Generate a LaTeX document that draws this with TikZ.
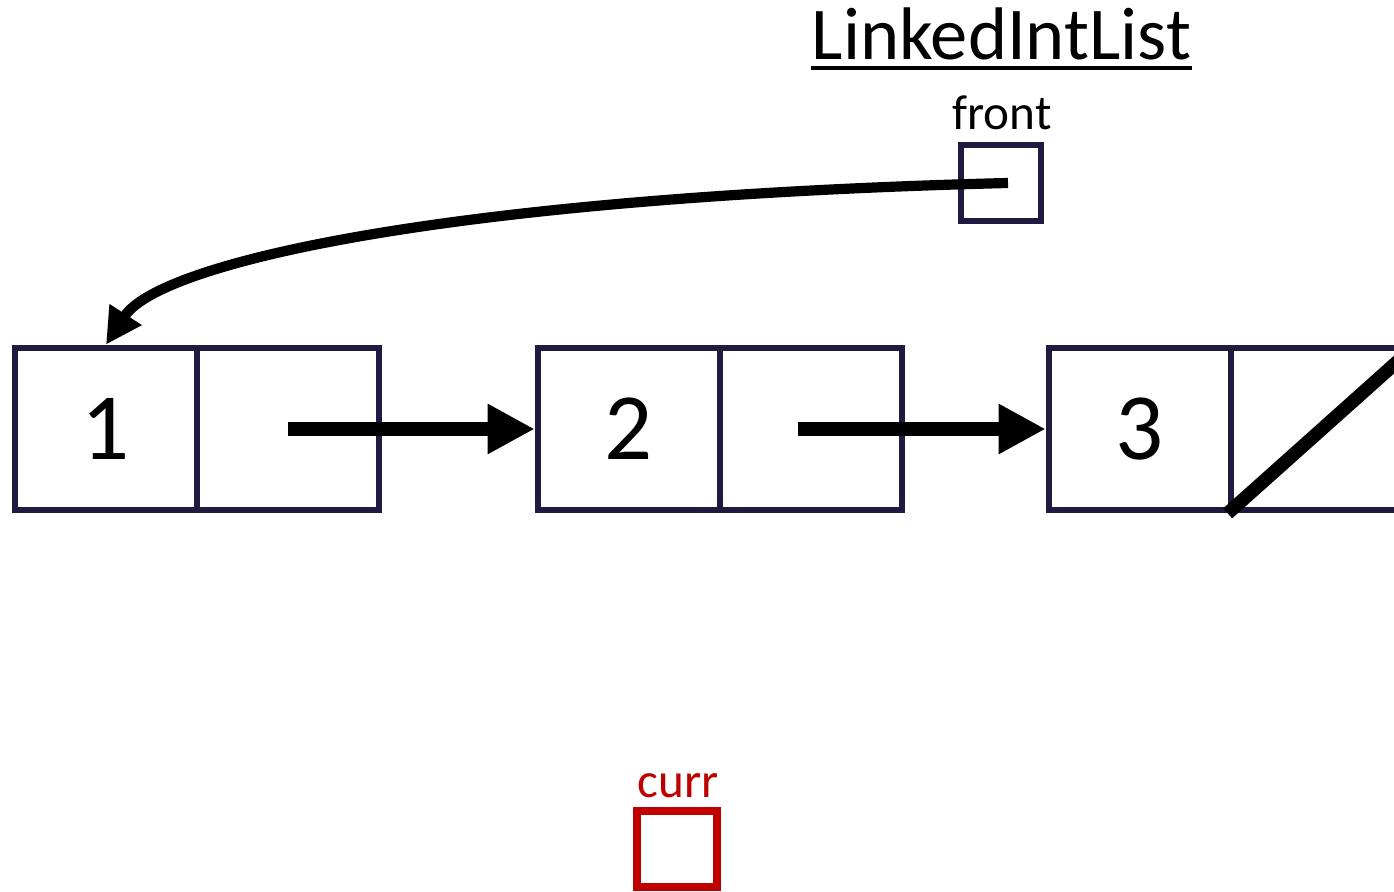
\documentclass[tikz,border=0pt]{standalone}
\usepackage{fontspec}
\setmainfont{Carlito}
\usepackage{tikz}
\usetikzlibrary{arrows.meta}
\definecolor{boxnavy}{HTML}{201A41}
\definecolor{currred}{HTML}{C00000}

\begin{document}
\begin{tikzpicture}[
        cell/.style={draw=boxnavy,line width=1.9pt,minimum width=1.82cm,minimum height=1.62cm,inner sep=0pt,font=\fontsize{27}{27}\selectfont},
        ptr/.style={draw=boxnavy,line width=1.9pt,minimum width=0.8cm,minimum height=0.76cm,inner sep=0pt},
        lbl/.style={anchor=base,inner sep=0pt,font=\fontsize{14}{14}\selectfont},
        link/.style={line width=4.2pt,-{Triangle[length=0.47cm,width=0.47cm]}}
    ]
    \clip (0,0) rectangle (13.94,8.92);
    % title
    \node[anchor=base,inner sep=0pt,font=\fontsize{21.2}{21.2}\selectfont] (ttl) at (10.015,8.32) {LinkedIntList};
    \draw[line width=1.1pt] ([yshift=-0.08cm]ttl.base west) -- ([yshift=-0.08cm]ttl.base east);
    % front field
    \node[lbl] (frlbl) at (10.02,7.62) {front};
    \node[ptr] (fr) at (10.01,7.09) {};
    % list nodes
    \node[cell] (d1) at (1.06,4.63) {1};
    \node[cell] (n1) at (2.88,4.63) {};
    \node[cell] (d2) at (6.29,4.63) {2};
    \node[cell] (n2) at (8.11,4.63) {};
    \node[cell] (d3) at (11.40,4.63) {3};
    \node[cell] (n3) at (13.22,4.63) {};
    \draw[link] (n1.center) -- (d2.west);
    \draw[link] ([xshift=-0.13cm]n2.center) -- (d3.west);
    \draw[line width=3.8pt] (n3.south west) -- (n3.north east);
    \draw[line width=2.9pt,-{Triangle[length=0.36cm,width=0.36cm]}]
        ([xshift=0.07cm]fr.center) .. controls (4.5,6.95) and (1.6,6.3) .. (d1.north);
    % curr
    \node[lbl,text=currred] (curlbl) at (6.78,0.94) {curr};
    \node[ptr,draw=currred,line width=2.1pt] (cur) at (6.77,0.43) {};
\end{tikzpicture}
\end{document}
